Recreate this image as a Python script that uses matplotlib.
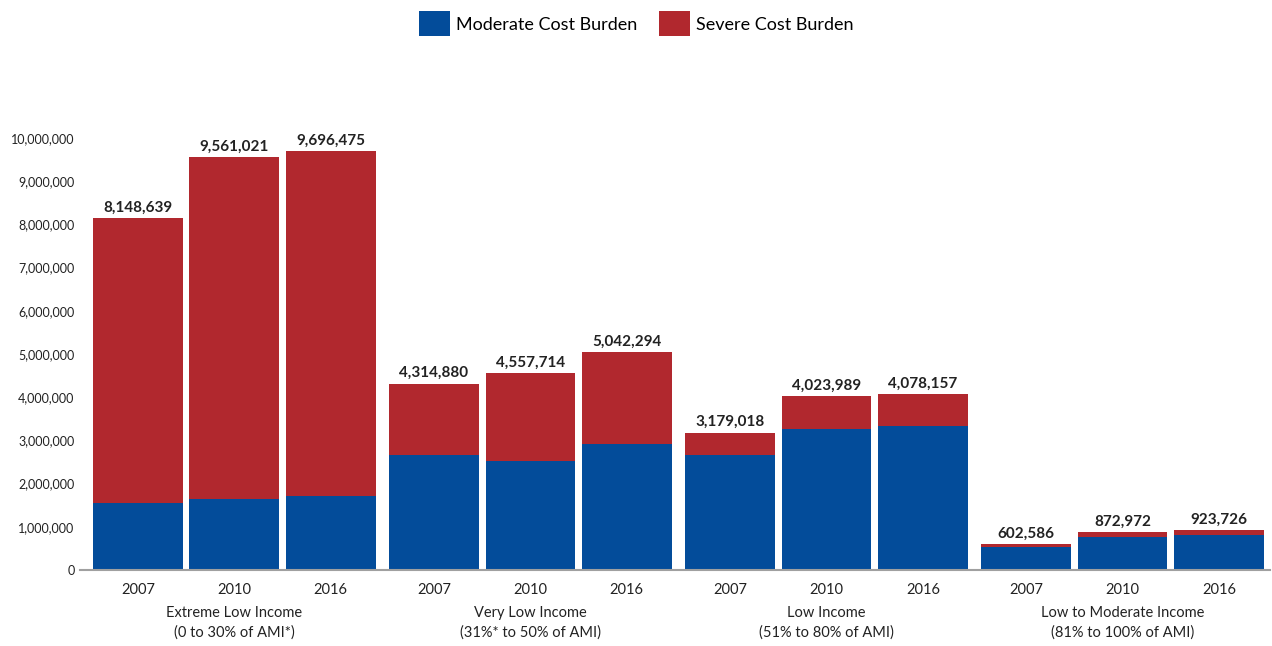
import matplotlib.pyplot as plt
import matplotlib.transforms as mtransforms
from matplotlib.ticker import FuncFormatter

plt.rcParams['font.family'] = ['Lato', 'DejaVu Sans']

years = ["2007", "2010", "2016"]
groups = ["Extreme Low Income\n(0 to 30% of AMI*)",
          "Very Low Income\n(31%* to 50% of AMI)",
          "Low Income\n(51% to 80% of AMI)",
          "Low to Moderate Income\n(81% to 100% of AMI)"]

totals = [8148639, 9561021, 9696475,
          4314880, 4557714, 5042294,
          3179018, 4023989, 4078157,
          602586, 872972, 923726]
moderate = [1560000, 1640000, 1710000,
            2660000, 2520000, 2920000,
            2660000, 3270000, 3340000,
            540000, 770000, 820000]
severe = [t - m for t, m in zip(totals, moderate)]

blue = "#034c9a"
red = "#b1282e"

fig = plt.figure(figsize=(12.72, 6.46), dpi=100)
ax = fig.add_axes([80/1272, 76/646, 1190/1272, 432/646])

group_step = 3.07
x = [g * group_step + i for g in range(len(groups)) for i in range(len(years))]
w = 0.93

ax.bar(x, moderate, w, color=blue, label="Moderate Cost Burden")
ax.bar(x, severe, w, bottom=moderate, color=red, label="Severe Cost Burden")

for xi, t in zip(x, totals):
    ax.text(xi, t + 80000, f"{t:,}", ha="center", va="bottom",
            fontsize=11, fontweight="bold", color="#222222")

ax.set_ylim(0, 10000000)
ax.set_xlim(x[0] - 0.6, x[-1] + 0.53)
ax.set_yticks(range(0, 10000001, 1000000))
ax.yaxis.set_major_formatter(FuncFormatter(lambda v, p: f"{int(v):,}"))
ax.set_xticks(x)
ax.set_xticklabels(years * len(groups))
ax.tick_params(axis="y", length=0, labelsize=9, pad=4, labelcolor="#222222")
ax.tick_params(axis="x", length=0, labelsize=10.5, pad=9, labelcolor="#222222")

for s in ["top", "right", "left"]:
    ax.spines[s].set_visible(False)
ax.spines["bottom"].set_color("#a0a0a0")
ax.spines["bottom"].set_linewidth(1.5)

trans = mtransforms.blended_transform_factory(ax.transData, fig.transFigure)
for g, name in enumerate(groups):
    cx = g * group_step + 1
    ax.text(cx, 1 - 606/646, name, transform=trans, ha="center", va="top",
            fontsize=10.5, color="#222222", linespacing=1.5)

fig.legend(loc="upper center", bbox_to_anchor=(0.5, 1 + 5/646), ncol=2,
           frameon=False, fontsize=13, handlelength=1.75, handleheight=1.75,
           handletextpad=0.3, columnspacing=1.2)

fig.savefig("out.png", dpi=100)
